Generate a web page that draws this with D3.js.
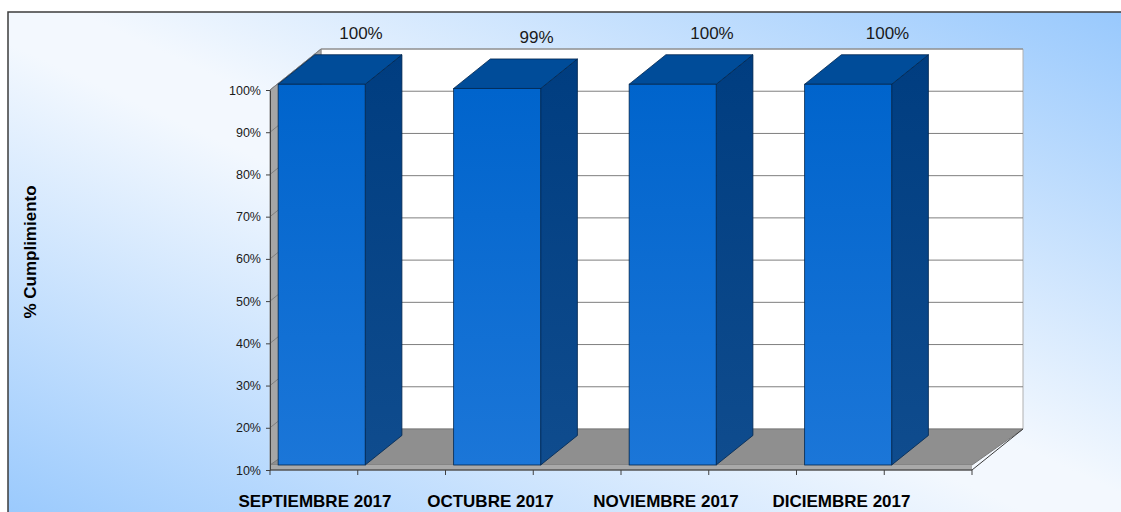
<!DOCTYPE html>
<html>
<head>
<meta charset="utf-8">
<script src="https://cdn.jsdelivr.net/npm/d3@7"></script>
<style>
  html, body { margin: 0; padding: 0; background: #fff; }
  svg { display: block; }
</style>
</head>
<body>
<div id="chart"></div>
<script>
const categories = ["SEPTIEMBRE 2017", "OCTUBRE 2017", "NOVIEMBRE 2017", "DICIEMBRE 2017"];
const values = [100, 99, 100, 100];
const valueLabels = ["100%", "99%", "100%", "100%"];
const yTicks = [10, 20, 30, 40, 50, 60, 70, 80, 90, 100];
const yTitle = "% Cumplimiento";

const width = 1121, height = 512;
const depth = { x: 51, y: -41 };   // 3D depth of the walls
const front = 0.14, back = 0.86;   // bar front / back plane as share of depth

const svg = d3.select('#chart')
    .append('svg')
    .attr('width', width)
    .attr('height', height);

const defs = svg.append('defs');
const bg = defs.append('linearGradient')
    .attr('id', 'bg')
    .attr('x1', 0).attr('y1', 1)
    .attr('x2', 1).attr('y2', 0);
bg.append('stop').attr('offset', 0).attr('stop-color', '#97c8fd');
bg.append('stop').attr('offset', 0.47).attr('stop-color', '#f3f8fe');
bg.append('stop').attr('offset', 0.53).attr('stop-color', '#f3f8fe');
bg.append('stop').attr('offset', 1).attr('stop-color', '#97c8fd');

const frontGrad = defs.append('linearGradient')
    .attr('id', 'barFront')
    .attr('x1', 0).attr('y1', 0).attr('x2', 0).attr('y2', 1);
frontGrad.append('stop').attr('offset', 0).attr('stop-color', '#0064cc');
frontGrad.append('stop').attr('offset', 1).attr('stop-color', '#1b76d8');

const sideGrad = defs.append('linearGradient')
    .attr('id', 'barSide')
    .attr('x1', 0).attr('y1', 0).attr('x2', 0).attr('y2', 1);
sideGrad.append('stop').attr('offset', 0).attr('stop-color', '#003d80');
sideGrad.append('stop').attr('offset', 1).attr('stop-color', '#0f4c8e');

// chart area
svg.append('rect')
    .attr('x', 8).attr('y', 12)
    .attr('width', 1130).attr('height', 520)
    .attr('fill', 'url(#bg)')
    .attr('stroke', '#3c3c3c')
    .attr('stroke-width', 1.5);

const x = d3.scaleBand()
    .domain(categories)
    .range([270, 972]);

const y = d3.scaleLinear()
    .domain([10, 100])
    .range([470, 90]);

const x0 = x.range()[0], x1 = x.range()[1];
const line = d3.line();
const poly = pts => line(pts) + 'Z';

// back wall
svg.append('path')
    .attr('d', poly([
        [x0 + depth.x, y(100) + depth.y],
        [x1 + depth.x, y(100) + depth.y],
        [x1 + depth.x, y(10) + depth.y],
        [x0 + depth.x, y(10) + depth.y]
    ]))
    .attr('fill', '#ffffff')
    .attr('stroke', '#b0b0b0')
    .attr('stroke-width', 1);

// left wall
svg.append('path')
    .attr('d', poly([
        [x0, y(10)],
        [x0, y(100)],
        [x0 + depth.x, y(100) + depth.y],
        [x0 + depth.x, y(10) + depth.y]
    ]))
    .attr('fill', '#a6a6a6')
    .attr('stroke', '#8a8a8a')
    .attr('stroke-width', 1);

// gridlines on left and back walls
svg.append('g')
    .selectAll('path')
    .data(yTicks.filter(d => d > 10))
    .join('path')
    .attr('d', d => line([
        [x0, y(d)],
        [x0 + depth.x, y(d) + depth.y],
        [x1 + depth.x, y(d) + depth.y]
    ]))
    .attr('fill', 'none')
    .attr('stroke', '#7f7f7f')
    .attr('stroke-width', 1);

// floor slab
const floorTop = y(10) - 5;
svg.append('path')
    .attr('d', poly([
        [x0, floorTop],
        [x1, floorTop],
        [x1 + depth.x, y(10) + depth.y],
        [x0 + depth.x, y(10) + depth.y]
    ]))
    .attr('fill', '#8f8f8f')
    .attr('stroke', '#7a7a7a')
    .attr('stroke-width', 1);
svg.append('path')
    .attr('d', poly([
        [x0, floorTop], [x1, floorTop], [x1, y(10)], [x0, y(10)]
    ]))
    .attr('fill', '#a9a9a9');
svg.append('path')
    .attr('d', line([[x1, y(10)], [x1 + depth.x, y(10) + depth.y]]))
    .attr('stroke', '#3a3a3a')
    .attr('stroke-width', 1);
svg.append('path')
    .attr('d', line([[x0, y(10)], [x1, y(10)]]))
    .attr('stroke', '#555555')
    .attr('stroke-width', 1.5);

// bars
const barW = x.bandwidth() * 0.496;
const fx = depth.x * front, fy = depth.y * front;
const bdx = depth.x * (back - front), bdy = depth.y * (back - front);

const bars = svg.append('g')
    .selectAll('g')
    .data(categories.map((c, i) => ({ cat: c, value: values[i], label: valueLabels[i] })))
    .join('g');

bars.each(function (d) {
    const g = d3.select(this);
    const left = x(d.cat) + 1 + fx;
    const right = left + barW;
    const top = y(d.value) + fy;
    const bottom = floorTop;
    g.append('path')
        .attr('d', poly([
            [right, top], [right + bdx, top + bdy],
            [right + bdx, bottom + bdy], [right, bottom]
        ]))
        .attr('fill', 'url(#barSide)')
        .attr('stroke', '#00264f')
        .attr('stroke-width', 0.8);
    g.append('path')
        .attr('d', poly([
            [left, top], [left + bdx, top + bdy],
            [right + bdx, top + bdy], [right, top]
        ]))
        .attr('fill', '#004c99')
        .attr('stroke', '#00264f')
        .attr('stroke-width', 0.8);
    g.append('rect')
        .attr('x', left)
        .attr('y', top)
        .attr('width', barW)
        .attr('height', bottom - top)
        .attr('fill', 'url(#barFront)')
        .attr('stroke', '#00264f')
        .attr('stroke-width', 0.8);
    g.append('text')
        .attr('x', x(d.cat) + 91)
        .attr('y', top + bdy - 16)
        .attr('text-anchor', 'middle')
        .attr('font-family', 'Liberation Sans, Arial, sans-serif')
        .attr('font-size', 17)
        .attr('fill', '#1a1a1a')
        .text(d.label);
});

// y axis
const yAxis = svg.append('g')
    .attr('transform', `translate(${x0},0)`)
    .call(d3.axisLeft(y)
        .tickValues(yTicks)
        .tickFormat(d => d + '%')
        .tickSize(4)
        .tickSizeOuter(0)
        .tickPadding(5));
yAxis.select('.domain').attr('stroke', '#404040');
yAxis.selectAll('.tick line').attr('stroke', '#404040');
yAxis.selectAll('.tick text')
    .attr('font-family', 'Liberation Sans, Arial, sans-serif')
    .attr('font-size', 12.5)
    .attr('fill', '#1a1a1a');

// x axis ticks (Excel draws one every half category)
const xTickPos = [];
categories.forEach(c => {
    xTickPos.push(x(c));
    xTickPos.push(x(c) + x.bandwidth() / 2);
});
xTickPos.push(x1);
svg.append('g')
    .selectAll('line')
    .data(xTickPos)
    .join('line')
    .attr('x1', d => d).attr('x2', d => d)
    .attr('y1', y(10)).attr('y2', y(10) + 5)
    .attr('stroke', '#404040')
    .attr('stroke-width', 1);

svg.append('g')
    .selectAll('text')
    .data(categories)
    .join('text')
    .attr('x', d => x(d) + 45)
    .attr('y', 507)
    .attr('text-anchor', 'middle')
    .attr('font-family', 'Liberation Sans, Arial, sans-serif')
    .attr('font-weight', 'bold')
    .attr('font-size', 17)
    .attr('fill', '#000')
    .text(d => d);

// y title
svg.append('text')
    .attr('transform', 'translate(36,252) rotate(-90)')
    .attr('text-anchor', 'middle')
    .attr('font-family', 'Liberation Sans, Arial, sans-serif')
    .attr('font-weight', 'bold')
    .attr('font-size', 17)
    .attr('fill', '#000')
    .text(yTitle);
</script>
</body>
</html>
